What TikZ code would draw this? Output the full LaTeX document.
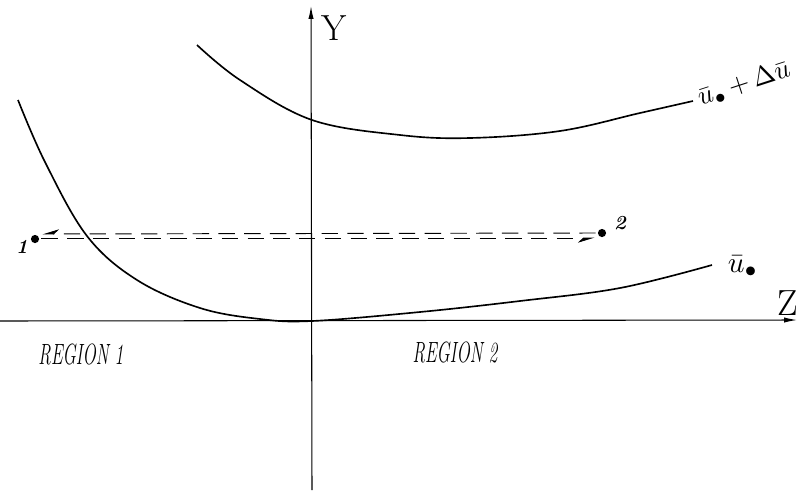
\documentclass[tikz,border=0pt]{standalone}
\usepackage{fontspec}
\usetikzlibrary{arrows.meta,calc}
\begin{document}
\begin{tikzpicture}[x=0.03cm,y=-0.03cm,
  axis/.style={line width=0.9pt, -{Latex[length=11pt,width=4.5pt]}},
  curve/.style={line width=1.4pt},
  dasharrow/.style={line width=0.8pt, dash pattern=on 14pt off 8pt},
  harp/.style={-{Stealth[harpoon,swap,length=13pt,width=8pt]}},
  dotnode/.style={circle, fill, inner sep=0pt, minimum size=7pt},
  lbl/.style={inner sep=0pt},
  reg/.style={font=\itshape\fontsize{25}{28}\selectfont, inner sep=0pt},
  axlbl/.style={font=\fontsize{31}{33}\selectfont, inner sep=0pt},
  small/.style={font=\itshape\bfseries\fontsize{17}{18}\selectfont, inner sep=0pt}
]
\useasboundingbox (0,0) rectangle (800,490);
% axes
\coordinate (ybot) at (312,490);
\coordinate (ytop) at (311,6);
\coordinate (zleft) at (0,321);
\coordinate (zright) at (797,320);
\draw[axis] (ybot) -- (ytop);
\draw[axis] (zleft) -- (zright);
\node[axlbl] (ylab) at (334,28) {Y};
\node[axlbl] (zlab) at (788,303) {Z};
% lower curve u0
\draw[curve] plot[smooth, tension=0.6] coordinates {(18,100) (45,162) (87,236) (137,280) (200,308) (260,319) (312,321) (420,312) (520,301) (620,288) (712,265)};
\node[lbl] (u0) at (743,266) {\scalebox{2.5}{$\bar{u}_{\bullet}$}};
% upper curve
\draw[curve] plot[smooth, tension=0.6] coordinates {(197,45) (240,80) (312,120) (400,135) (470,138) (560,131) (640,113) (693,101)};
\node[lbl, rotate=18] (u1) at (744,84) {\scalebox{2.3}{$\bar{u}_{\bullet}\,{+}\,\Delta\bar{u}$}};
% points 1 and 2
\node[dotnode] (p1) at (35,239) {};
\node[dotnode] (p2) at (602,233) {};
\node[small] (l1) at (22,247) {1};
\node[small] (l2) at (620,223) {2};
\coordinate (a1) at ($(p2.west)+(-2,0)$);
\coordinate (a2) at ($(p1.east)+(3,-5)$);
\coordinate (b1) at ($(p1.east)+(2,-1)$);
\coordinate (b2) at ($(p2.west)+(-3,5)$);
\draw[dasharrow, harp] (a1) -- (a2);
\draw[dasharrow, harp] (b1) -- (b2);
% regions
\node[reg] (r1) at (81,354) {\scalebox{0.6}[1]{REGION 1}};
\node[reg] (r2) at (455,352) {\scalebox{0.6}[1]{REGION 2}};
\end{tikzpicture}
\end{document}
